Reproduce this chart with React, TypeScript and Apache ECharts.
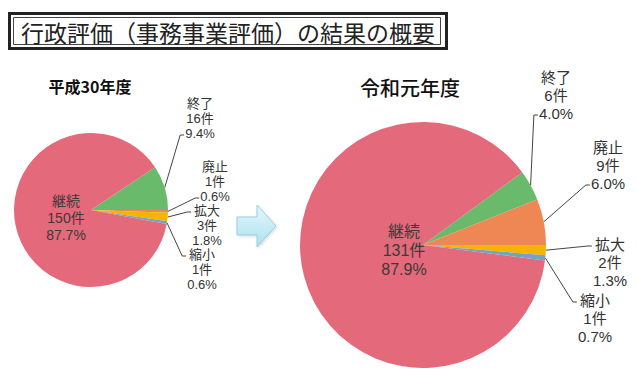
import React, { useEffect, useRef } from "react";
import * as echarts from "echarts";

const categories = ["終了", "廃止", "拡大", "縮小", "継続"];
const valuesH30 = [16, 1, 3, 1, 150];
const valuesR1 = [6, 9, 2, 1, 131];
const yearLabels = ["平成30年度", "令和元年度"];
const titleText = "行政評価（事務事業評価）の結果の概要";
const unit = "件";

const COLORS: Record<string, string> = {
  終了: "#69BA6B",
  廃止: "#EE8753",
  拡大: "#F5B400",
  縮小: "#6EA6C8",
  継続: "#E4697B",
};

const FONT = "'Noto Sans CJK JP', 'Noto Sans', sans-serif";
const LABEL_FONT = "'Liberation Sans', 'Noto Sans CJK JP', sans-serif";

// label centre x, centre y, which text line the leader line points at
const leftLabelPos = [
  [200, 118, 2],
  [215, 181, 2],
  [207, 225, 0],
  [202, 269, 0],
  [66, 218, -1],
];
const rightLabelPos = [
  [556, 95, 2],
  [608, 165, 2],
  [610, 262, 0],
  [595, 318, 0],
  [404, 250, -1],
];

function buildSeries(
  values: number[],
  firstCount: number,
  center: [number, number],
  radius: number,
  labelPos: number[][],
  fontSize: number,
  lineHeight: number,
  innerSize: number,
  innerLH: number
) {
  const total = values.reduce((a, b) => a + b, 0);
  let acc = 0;
  for (let i = 0; i < firstCount; i++) acc += values[i];
  const firstAngle = (acc / total) * 360;
  const data = categories.map((name, i) => {
    const inner = name === "継続";
    return {
      name,
      value: values[i],
      itemStyle: { color: COLORS[name] },
      label: inner
        ? { position: "inside", fontSize: innerSize, lineHeight: innerLH, color: "#3a3a3a" }
        : { position: "outside" },
      labelLine: { show: !inner },
    };
  });
  return {
    type: "pie",
    center,
    radius,
    startAngle: firstAngle,
    clockwise: true,
    avoidLabelOverlap: false,
    itemStyle: { borderWidth: 0 },
    label: {
      show: true,
      fontFamily: LABEL_FONT,
      fontSize,
      lineHeight,
      color: "#333",
      align: "center",
      formatter: (p: any) =>
        `${p.name}\n${p.value}${unit}\n${((p.value / total) * 100).toFixed(1)}%`,
    },
    labelLine: {
      show: true,
      length: 10,
      length2: 10,
      lineStyle: { color: "#444", width: 1 },
    },
    labelLayout: (p: any) => {
      const pos = labelPos[p.dataIndex];
      const res: any = {
        x: pos[0],
        y: pos[1],
        align: "center",
        verticalAlign: "middle",
      };
      if (pos[2] >= 0 && p.labelLinePoints && p.labelRect) {
        const start = p.labelLinePoints[0];
        const w = p.labelRect.width;
        const h = p.labelRect.height;
        const lh = h / 3;
        const endX = pos[0] - w / 2 - 1;
        const endY = pos[1] - h / 2 + lh * (pos[2] + 0.5) + 2;
        res.labelLinePoints = [
          [start[0], start[1]],
          [endX - 4, endY],
          [endX, endY],
        ];
      }
      return res;
    },
    emphasis: { disabled: true },
    data,
  };
}

export default function App() {
  const ref = useRef<HTMLDivElement>(null);
  useEffect(() => {
    if (!ref.current) return;
    const chart = echarts.init(ref.current, undefined, { renderer: "svg" });
    const sLeft: any = buildSeries(valuesH30, 1, [91, 210], 77, leftLabelPos, 13, 15, 14, 17);
    const sRight: any = buildSeries(valuesR1, 2, [423, 245], 123, rightLabelPos, 15, 18, 16, 19);
    chart.setOption({
      animation: false,
      backgroundColor: "#ffffff",
      series: [sLeft, sRight],
      graphic: [
        {
          type: "rect",
          shape: { x: 9.5, y: 13.5, width: 437, height: 35 },
          style: { fill: "#fff", stroke: "#222", lineWidth: 3 },
          z: 10,
        },
        {
          type: "rect",
          shape: { x: 13.5, y: 17.5, width: 427, height: 27 },
          style: { fill: "none", stroke: "#444", lineWidth: 1 },
          z: 11,
        },
        {
          type: "text",
          x: 228,
          y: 31.5,
          style: {
            text: titleText,
            fontFamily: FONT,
            fontSize: 23,
            fill: "#222",
            align: "center",
            verticalAlign: "middle",
          },
          z: 12,
        },
        {
          type: "text",
          x: 90,
          y: 86,
          style: {
            text: yearLabels[0],
            fontFamily: FONT,
            fontSize: 16,
            fontWeight: "bold",
            fill: "#111",
            align: "center",
            verticalAlign: "middle",
          },
        },
        {
          type: "text",
          x: 410,
          y: 87,
          style: {
            text: yearLabels[1],
            fontFamily: FONT,
            fontSize: 20,
            fontWeight: 500,
            fill: "#111",
            align: "center",
            verticalAlign: "middle",
          },
        },
        {
          type: "polygon",
          shape: {
            points: [
              [237, 217],
              [257, 217],
              [257, 205],
              [276, 226],
              [257, 247],
              [257, 235],
              [237, 235],
            ],
          },
          style: {
            fill: new echarts.graphic.LinearGradient(0, 0, 0, 1, [
              { offset: 0, color: "#E6F8FC" },
              { offset: 1, color: "#A9E1EF" },
            ]),
            stroke: "#9ACFDF",
            lineWidth: 1,
            shadowBlur: 3,
            shadowColor: "rgba(0,0,0,0.15)",
            shadowOffsetX: 1,
            shadowOffsetY: 1,
          },
        },
      ],
    });
    return () => chart.dispose();
  }, []);
  return (
    <div
      ref={ref}
      style={{ position: "absolute", left: 0, top: 0, width: 636, height: 377 }}
    />
  );
}
